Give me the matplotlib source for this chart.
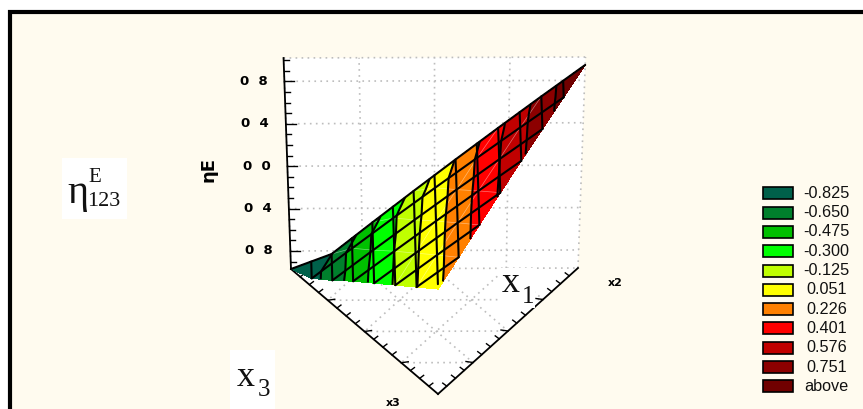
import numpy as np
import matplotlib
matplotlib.use("Agg")
import matplotlib.pyplot as plt
import matplotlib.tri as mtri
from matplotlib.patches import Rectangle, Polygon

# ---- data ----
z_rows = [
    [-0.97, -0.83, -0.534, -0.238, 0.058, 0.354, 0.65, 0.945],
    [-0.89, -0.607, -0.323, -0.04, 0.243, 0.527, 0.81],
    [-0.74, -0.456, -0.172, 0.112, 0.396, 0.68],
    [-0.58, -0.298, -0.015, 0.268, 0.55],
    [-0.43, -0.147, 0.137, 0.42],
    [-0.28, 0.003, 0.285],
    [-0.13, 0.15],
    [0.02],
]
levels = [-0.825, -0.650, -0.475, -0.300, -0.125, 0.051, 0.226, 0.401, 0.576, 0.751]
legend_labels = ["-0.825", "-0.650", "-0.475", "-0.300", "-0.125", "0.051",
                 "0.226", "0.401", "0.576", "0.751", "above"]
band_colors = ["#00604A", "#00802C", "#00C000", "#00FF00", "#C0FF00", "#FFFF00",
               "#FF8000", "#FF0000", "#C00000", "#8C0000", "#700000"]
z_ticks = [-0.8, -0.4, 0.0, 0.4, 0.8]
z_tick_labels = ["0  8", "0  4", "0  0", "0  4", "0  8"]

# ---- screen geometry of the ternary box ----
L = np.array([291.0, 269.0]); R = np.array([578.0, 268.0]); F = np.array([438.0, 394.0])
ZMIN, ZMAX, ZPIX, CX, PERSP = -0.97, 1.02, 211.0, 434.0, 0.052
N = len(z_rows) - 1
BG = "#FFFBEF"
GRID = "#BDBDBD"

def project(s, t, z):
    s, t, z = np.asarray(s, float), np.asarray(t, float), np.asarray(z, float)
    h = (z - ZMIN) / (ZMAX - ZMIN)
    fx = L[0] + (R[0] - L[0]) * s + (F[0] - L[0]) * t
    fy = L[1] + (R[1] - L[1]) * s + (F[1] - L[1]) * t
    return CX + (fx - CX) * (1 + PERSP * h), fy - ZPIX * h

fig = plt.figure(figsize=(8.63, 4.09), dpi=100, facecolor="white")
ax = fig.add_axes([0, 0, 1, 1])
ax.set_xlim(0, 863); ax.set_ylim(409, 0); ax.axis("off")

# page frame
ax.add_patch(Rectangle((10, 12), 853, 400, fc=BG, ec="none", zorder=0))
ax.plot([10, 10, 863], [412, 12, 12], color="black", lw=3, solid_joinstyle="miter", zorder=1)

# white walls and floor
wx, wy = [], []
for (s, t, z) in [(0, 0, ZMAX), (1, 0, ZMAX), (1, 0, ZMIN), (0, 0, ZMIN)]:
    x, y = project(s, t, z); wx.append(float(x)); wy.append(float(y))
ax.add_patch(Polygon(np.c_[wx, wy], fc="white", ec="none", zorder=1))
fx, fy = project([0, 1, 0], [0, 0, 1], [ZMIN] * 3)
ax.add_patch(Polygon(np.c_[fx, fy], fc="white", ec="none", zorder=1))

dot = dict(color=GRID, lw=1.2, linestyle=(0, (1, 2.6)), zorder=2)
# wall grid
for k in range(0, 5):
    x, y = project([k / 4, k / 4], [0, 0], [ZMIN, ZMAX]); ax.plot(x, y, **dot)
x, y = project([0, 1], [0, 0], [ZMAX, ZMAX]); ax.plot(x, y, **dot)
for zt in z_ticks:
    x, y = project([0, 1], [0, 0], [zt, zt]); ax.plot(x, y, **dot)
x, y = project([0, 1], [0, 0], [ZMIN, ZMIN]); ax.plot(x, y, **dot)
# floor grid
for k in range(1, 4):
    q = k / 4
    x, y = project([0, 1 - q], [q, q], [ZMIN, ZMIN]); ax.plot(x, y, **dot)
    x, y = project([q, q], [0, 1 - q], [ZMIN, ZMIN]); ax.plot(x, y, **dot)
    x, y = project([q, 0], [0, q], [ZMIN, ZMIN]); ax.plot(x, y, **dot)

# axes lines and ticks
axis = dict(color="black", lw=1.3, zorder=3)
x, y = project([0, 0], [0, 0], [ZMIN, ZMAX]); ax.plot(x, y, **axis)
x, y = project([0, 0], [0, 1], [ZMIN, ZMIN]); ax.plot(x, y, **axis)
x, y = project([1, 0], [0, 1], [ZMIN, ZMIN]); ax.plot(x, y, **axis)
tick = dict(color="black", lw=1.0, zorder=3)
for zt in np.arange(-0.9, 1.01, 0.1):
    major = abs(round(zt * 10)) % 4 == 0
    x, y = project(0, 0, zt)
    ax.plot([x, x + (10 if major else 5)], [y, y], **tick)
for k in range(1, 16):
    major = k % 4 == 0
    x, y = project(0, k / 16, ZMIN)
    ax.plot([x, x + (7 if major else 4)], [y, y - (1 if major else 3)], **tick)
    x, y = project(1 - k / 16, k / 16, ZMIN)
    ax.plot([x, x - (7 if major else 4)], [y, y - (1 if major else 3)], **tick)

# surface
si, ti, zi, index = [], [], [], {}
for j, row in enumerate(z_rows):
    for i, v in enumerate(row):
        index[(i, j)] = len(si)
        si.append(i / N); ti.append(j / N); zi.append(v)
si, ti, zi = np.array(si), np.array(ti), np.array(zi)
triangles = []
for j in range(N):
    for i in range(N - j):
        triangles.append([index[(i, j)], index[(i + 1, j)], index[(i, j + 1)]])
        if i + j < N - 1:
            triangles.append([index[(i + 1, j)], index[(i + 1, j + 1)], index[(i, j + 1)]])
px, py = project(si, ti, zi)
tri = mtri.Triangulation(px, py, triangles)
all_levels = [-1.2] + levels + [1.2]
ax.tricontourf(tri, zi, levels=all_levels, colors=band_colors, zorder=4)
ax.tricontourf(tri, zi, levels=all_levels, colors=band_colors, zorder=4)
ax.tricontour(tri, zi, levels=levels, colors="black", linewidths=1.5,
              linestyles="solid", zorder=5)

interp = mtri.LinearTriInterpolator(mtri.Triangulation(si, ti, triangles), zi)

def surface_line(a, b, **style):
    u = np.linspace(0, 1, 25)
    ss = a[0] + (b[0] - a[0]) * u
    tt = a[1] + (b[1] - a[1]) * u + 1e-4
    ss = np.clip(ss - 2e-4, 0.0, 1.0)
    zz = interp(ss, tt)
    ok = ~np.ma.getmaskarray(zz)
    x, y = project(ss[ok], tt[ok], np.asarray(zz[ok]))
    ax.plot(x, y, **style)

# faint facet lines
hair = dict(color="white", lw=0.5, alpha=0.45, zorder=4.5)
for i in range(1, 4):
    surface_line((i / N, 0.0), (i / N, 1 - i / N), **hair)
for k in range(5, 7):
    surface_line((k / N, 0.0), (0.0, k / N), **hair)

mesh = dict(color="black", lw=1.5, zorder=6, solid_capstyle="round")
for j in range(N):
    row = z_rows[j]
    x, y = project([i / N for i in range(len(row))], [j / N] * len(row), row)
    ax.plot(x, y, **mesh)
for m in range(1, 2 * N):
    a = np.array([m / 2, 0.0]) / N
    b = (np.array([0.0, m]) if m <= N else np.array([m - N, 2 * N - m])) / N
    surface_line(a, b, **mesh)

# blurry axis annotations
for zt, lab in zip(z_ticks, z_tick_labels):
    x, y = project(0, 0, zt)
    ax.text(x - 31, y, lab, ha="center", va="center", fontsize=9.5,
            fontweight="bold", color="black", family="DejaVu Sans", zorder=7)
ax.text(208, 169, "\u03b7E", rotation=90, ha="center", va="center", fontsize=13,
        fontweight="bold", family="DejaVu Sans", zorder=7)
ax.text(615, 283, "x2", ha="center", va="center", fontsize=8, fontweight="bold",
        family="DejaVu Sans", zorder=7)
ax.text(393, 403, "x3", ha="center", va="center", fontsize=8, fontweight="bold",
        family="DejaVu Sans", zorder=7)

# white label boxes
serif = dict(family="Liberation Serif", color="#111111", zorder=9)
ax.add_patch(Rectangle((62, 158), 65, 61, fc="white", ec="none", zorder=8))
ax.text(67, 194, "\u03b7", fontsize=29, ha="left", va="center", **serif)
ax.text(88, 177, "E", fontsize=15, ha="left", va="center", **serif)
ax.text(87, 201, "123", fontsize=16, ha="left", va="center", **serif)
ax.add_patch(Rectangle((498, 268), 37, 40, fc="white", ec="none", zorder=8))
ax.text(502, 284, "x", fontsize=26, ha="left", va="center", **serif)
ax.text(522, 297, "1", fontsize=18, ha="left", va="center", **serif)
ax.add_patch(Rectangle((230, 350), 45, 59, fc="white", ec="none", zorder=8))
ax.text(237, 378, "x", fontsize=26, ha="left", va="center", **serif)
ax.text(258, 390, "3", fontsize=18, ha="left", va="center", **serif)

# legend
for k, (lab, col) in enumerate(zip(legend_labels, band_colors)):
    yc = 193.3 + 19.3 * k
    ax.add_patch(Rectangle((762.5, yc - 6), 30, 12, fc=col, ec="black", lw=1.2, zorder=8))
    ax.text(826.5, yc, lab, ha="center", va="center", fontsize=11.7,
            family="Liberation Sans", color="#111111", zorder=8)

fig.savefig("out.png", dpi=100)
